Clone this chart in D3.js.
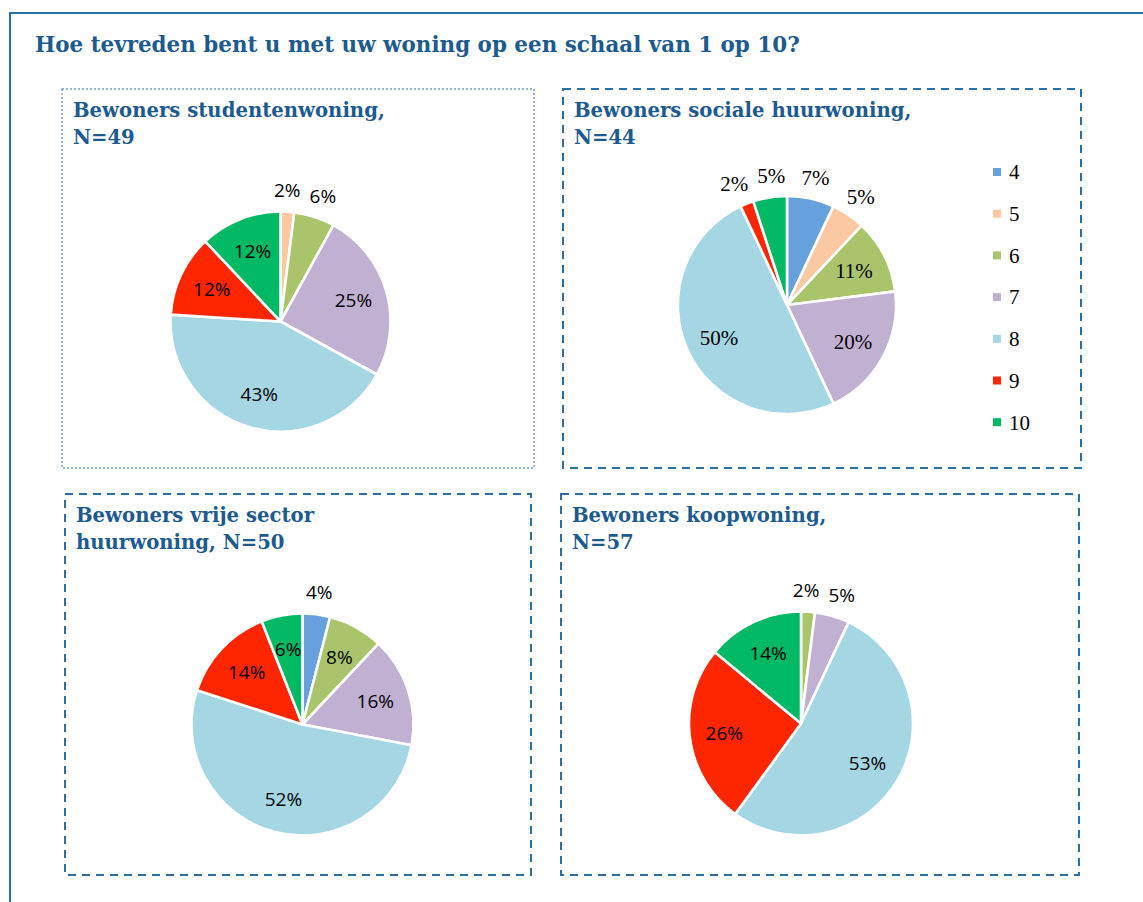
<!DOCTYPE html>
<html>
<head>
<meta charset="utf-8">
<script src="https://cdn.jsdelivr.net/npm/d3@7"></script>
<style>
  body { margin: 0; background: #fff; }
  svg { display: block; }
</style>
</head>
<body>
<svg id="chart" width="1143" height="902"></svg>
<script>
const chartTitle = 'Hoe tevreden bent u met uw woning op een schaal van 1 op 10?';
const categories = ['4', '5', '6', '7', '8', '9', '10'];
const studentValues = [0, 2, 6, 25, 43, 12, 12];
const socialValues = [7, 5, 11, 20, 50, 2, 5];
const freeSectorValues = [4, 0, 8, 16, 52, 14, 6];
const ownerValues = [0, 0, 2, 5, 53, 26, 14];
const panelTitles = [
  ['Bewoners studentenwoning,', 'N=49'],
  ['Bewoners sociale huurwoning,', 'N=44'],
  ['Bewoners vrije sector', 'huurwoning, N=50'],
  ['Bewoners koopwoning,', 'N=57']
];

const sliceColors = ['#66a1dd', '#fac9a1', '#aac46c', '#c0b1d3', '#a4d6e4', '#fe2600', '#00b964'];
const titleColor = '#1d5a8e';
const frameColor = '#2c6fa3';
const sansFont = '"Open Sans", sans-serif';
const serifFont = '"Liberation Serif", serif';
const headFont = '"DejaVu Serif", serif';

const color = d3.scaleOrdinal().domain(categories).range(sliceColors);

// panel boxes, pie centres and which labels Excel pushed outside the slice
const panels = [
  {x: 62, y: 89, w: 472, h: 379, dotted: true, cx: 280.5, cy: 321.5, r: 110,
    outside: ['5', '6'], labelFont: sansFont, labelSize: 19},
  {x: 563, y: 89, w: 518, h: 379, cx: 787, cy: 305, r: 109, legend: true,
    outside: ['4', '5', '9', '10'], labelFont: serifFont, labelSize: 21},
  {x: 65, y: 494, w: 466, h: 381, cx: 302.5, cy: 724.5, r: 111,
    outside: ['4'], labelFont: sansFont, labelSize: 19},
  {x: 561, y: 494, w: 518, h: 381, cx: 801, cy: 723.5, r: 112,
    outside: ['6', '7'], labelFont: sansFont, labelSize: 19}
];

const svg = d3.select('#chart');

class PiePanel {
  constructor (opts) {
    this.svg = opts.svg;
    this.box = opts.box;
    this.titleLines = opts.titleLines;
    this.data = categories
      .map((c, i) => ({category: c, value: opts.values[i]}))
      .filter(d => d.value > 0);
    this.pie = d3.pie().sort(null).value(d => d.value);
    this.arc = d3.arc().innerRadius(0).outerRadius(this.box.r);
    this.insideArc = d3.arc().innerRadius(this.box.r * 0.69).outerRadius(this.box.r * 0.69);
    this.outsideArc = d3.arc().innerRadius(this.box.r + 22).outerRadius(this.box.r + 22);
    this.group = this.svg.append('g');
  }

  renderBorder () {
    const b = this.box;
    this.group.append('rect')
      .attr('x', b.x)
      .attr('y', b.y)
      .attr('width', b.w)
      .attr('height', b.h)
      .attr('fill', 'none')
      .attr('stroke', b.dotted ? '#6f9dc6' : frameColor)
      .attr('stroke-width', b.dotted ? 1.4 : 2)
      .attr('stroke-dasharray', b.dotted ? '2,2' : '8,6');
  }

  renderTitle (fontSize) {
    const b = this.box;
    this.group.append('text')
      .attr('x', b.x + 11)
      .attr('y', b.y + 28)
      .attr('font-family', headFont)
      .attr('font-weight', 'bold')
      .attr('font-size', fontSize)
      .attr('fill', titleColor)
      .selectAll('tspan')
      .data(this.titleLines)
      .enter()
      .append('tspan')
      .attr('x', b.x + 11)
      .attr('dy', (d, i) => i === 0 ? 0 : 26.5)
      .text(d => d);
  }

  renderSlices () {
    const b = this.box;
    this.arcs = this.pie(this.data);
    this.pieGroup = this.group.append('g')
      .attr('transform', `translate(${b.cx},${b.cy})`);

    this.pieGroup.selectAll('path')
      .data(this.arcs)
      .enter()
      .append('path')
      .attr('d', this.arc)
      .attr('fill', d => color(d.data.category))
      .attr('stroke', '#fff')
      .attr('stroke-width', 2.6)
      .attr('stroke-linejoin', 'round');
  }

  renderLabels () {
    const b = this.box;
    this.arcs.forEach(d => {
      d.isOut = b.outside.includes(d.data.category);
      d.pos = (d.isOut ? this.outsideArc : this.insideArc).centroid(d);
    });

    const labels = this.pieGroup.selectAll('text')
      .data(this.arcs)
      .enter()
      .append('text')
      .attr('text-anchor', 'middle')
      .attr('dy', '0.36em')
      .attr('font-family', b.labelFont)
      .attr('font-size', b.labelSize)
      .attr('fill', '#000')
      .text(d => d.data.value + '%')
      .each(function (d) { d.width = this.getComputedTextLength(); });

    // push neighbouring outside labels apart when they crowd each other
    const outs = this.arcs.filter(d => d.isOut).sort((a, c) => a.pos[0] - c.pos[0]);
    for (let i = 1; i < outs.length; i++) {
      const a = outs[i - 1];
      const c = outs[i];
      if (Math.abs(a.pos[1] - c.pos[1]) > 20) continue;
      const need = (a.width + c.width) / 2 + 9;
      const gap = c.pos[0] - a.pos[0];
      if (gap < need) {
        a.pos[0] -= (need - gap) / 2;
        c.pos[0] += (need - gap) / 2;
      }
    }

    labels.attr('transform', d => `translate(${d.pos[0]},${d.pos[1]})`);
  }

  renderLegend () {
    const b = this.box;
    const rows = this.group.append('g')
      .selectAll('g')
      .data(categories)
      .enter()
      .append('g')
      .attr('transform', (d, i) => `translate(${b.x + 430},${b.y + 83 + i * 41.7})`);

    rows.append('rect')
      .attr('x', 0)
      .attr('y', -4)
      .attr('width', 8)
      .attr('height', 8)
      .attr('fill', d => color(d));

    rows.append('text')
      .attr('x', 16)
      .attr('dy', '0.35em')
      .attr('font-family', serifFont)
      .attr('font-size', 21)
      .attr('fill', '#000')
      .text(d => d);
  }

  render (titleSize) {
    this.renderBorder();
    this.renderTitle(titleSize);
    this.renderSlices();
    this.renderLabels();
    if (this.box.legend) this.renderLegend();
  }
}

// font size that makes a string span the width it has in the original
function fitSize (text, family, target) {
  const probe = svg.append('text')
    .attr('font-family', family)
    .attr('font-weight', 'bold')
    .attr('font-size', 20)
    .text(text);
  const len = probe.node().getComputedTextLength();
  probe.remove();
  return 20 * target / len;
}

// outer frame runs off the page on the right and bottom
svg.append('rect')
  .attr('x', 10)
  .attr('y', 13)
  .attr('width', 1200)
  .attr('height', 1000)
  .attr('fill', 'none')
  .attr('stroke', frameColor)
  .attr('stroke-width', 2);

svg.append('text')
  .attr('x', 35)
  .attr('y', 52)
  .attr('font-family', headFont)
  .attr('font-weight', 'bold')
  .attr('font-size', fitSize(chartTitle, headFont, 765))
  .attr('fill', titleColor)
  .text(chartTitle);

const panelTitleSize = fitSize(panelTitles[0][0], headFont, 312);
const seriesValues = [studentValues, socialValues, freeSectorValues, ownerValues];

panels.forEach((box, i) => {
  new PiePanel({
    svg: svg,
    box: box,
    values: seriesValues[i],
    titleLines: panelTitles[i]
  }).render(panelTitleSize);
});
</script>
</body>
</html>
